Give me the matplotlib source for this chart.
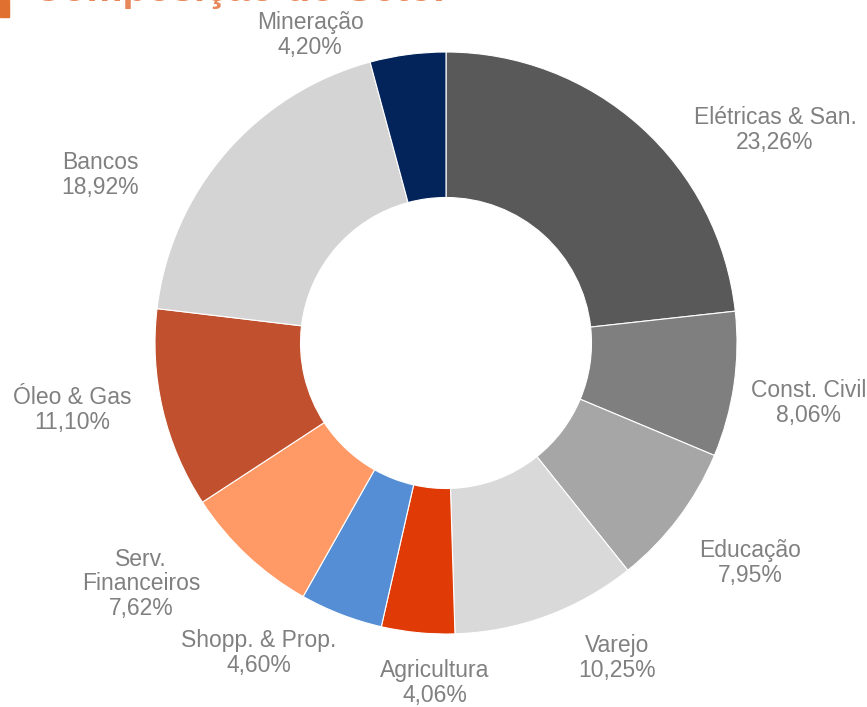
import matplotlib
matplotlib.use("Agg")
import matplotlib.pyplot as plt
from matplotlib.patches import Rectangle

categories = ["Elétricas & San.", "Const. Civil", "Educação", "Varejo", "Agricultura",
              "Shopp. & Prop.", "Serv.\nFinanceiros", "Óleo & Gas", "Bancos", "Mineração"]
values = [23.26, 8.06, 7.95, 10.25, 4.06, 4.60, 7.62, 11.10, 18.92, 4.20]
pct_labels = ["23,26%", "8,06%", "7,95%", "10,25%", "4,06%", "4,60%", "7,62%", "11,10%", "18,92%", "4,20%"]
colors = ["#595959", "#7f7f7f", "#a6a6a6", "#d9d9d9", "#e03a06",
          "#558ed5", "#ff9a66", "#c0502e", "#d4d4d4", "#03235b"]
# label positions in units of outer radius
label_pos = [(1.131, 0.732), (1.247, -0.206), (1.045, -0.756), (0.588, -1.082), (-0.038, -1.168),
             (-0.643, -1.065), (-1.048, -0.828), (-1.285, -0.230), (-1.189, 0.577), (-0.467, 1.058)]

W, H = 867, 707
fig = plt.figure(figsize=(W / 100, H / 100), dpi=100)
ax = fig.add_axes([0, 0, 1, 1])
cx, cy, R = 446, 343, 291

ax.pie(values, colors=colors, startangle=90, counterclock=False, radius=1.0,
       wedgeprops=dict(width=0.5, edgecolor="white", linewidth=0.8))
ax.set_xlim(-cx / R, (W - cx) / R)
ax.set_ylim((cy - H) / R, cy / R)
ax.set_aspect("equal")
ax.axis("off")

for cat, pct, (x, y) in zip(categories, pct_labels, label_pos):
    ax.text(x, y, cat + "\n" + pct, ha="center", va="center", fontsize=16.5,
            color="#808080", linespacing=1.08, family="Liberation Sans")

# partially visible title (cut off at the top edge, as in the reference) and orange marker
fig.patches.append(Rectangle((0, 1 - 17 / H), 9 / W, 17 / H, transform=fig.transFigure,
                             color="#e07030", zorder=5))
fig.text(33 / W, 1 - 1 / H, "Composição do Setor", ha="left", va="baseline",
         fontsize=29, fontweight="bold", color="#e8875a", family="Liberation Sans")

fig.savefig("out.png", dpi=100)
